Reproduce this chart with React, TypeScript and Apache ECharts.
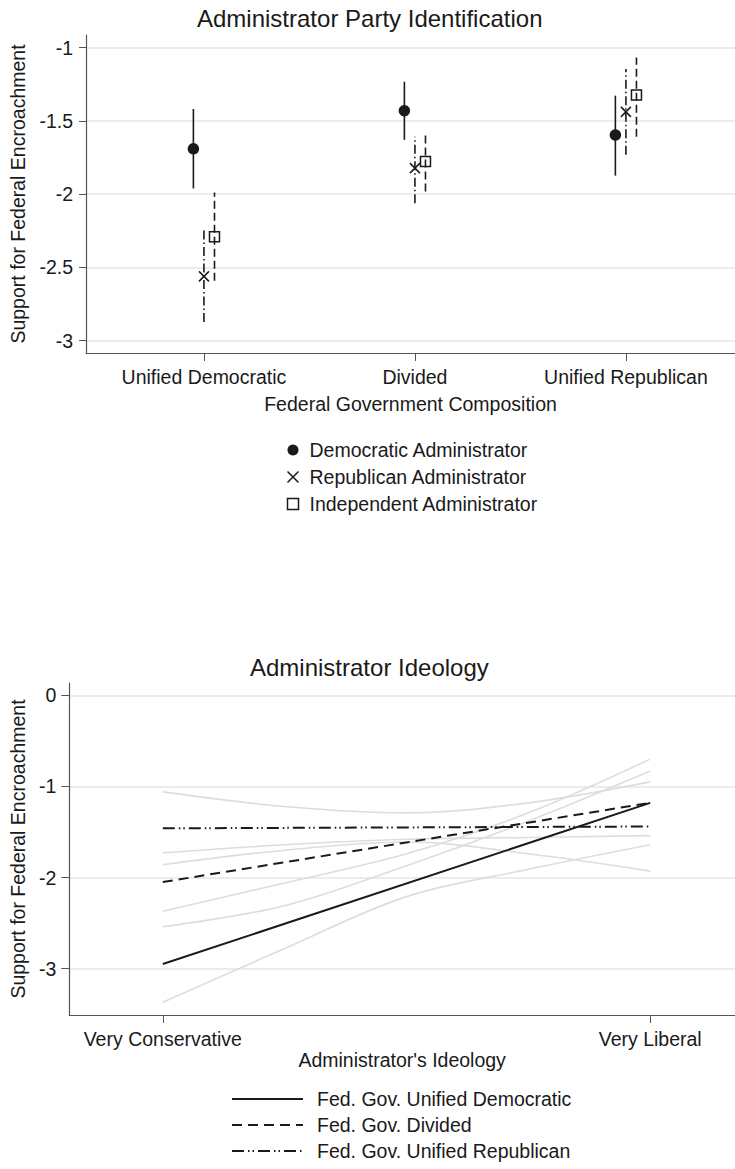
import React, { useEffect, useRef } from 'react';
import * as echarts from 'echarts';

// ---- Panel 1: Administrator party identification by federal government composition ----
const compositions = ['Unified Democratic', 'Divided', 'Unified Republican'];
const compositionTicks = [1, 2, 3];
const partyNames = ['Democratic Administrator', 'Republican Administrator', 'Independent Administrator'];

const demEst = [-1.69, -1.43, -1.595];
const demLo = [-1.961, -1.629, -1.873];
const demHi = [-1.418, -1.232, -1.327];

const repEst = [-2.561, -1.822, -1.438];
const repLo = [-2.872, -2.061, -1.731];
const repHi = [-2.243, -1.607, -1.145];

const indEst = [-2.291, -1.777, -1.322];
const indLo = [-2.59, -1.982, -1.607];
const indHi = [-1.988, -1.573, -1.066];

const partyYTicks = [-3, -2.5, -2, -1.5, -1];

// ---- Panel 2: Administrator ideology ----
const ideologyLabels = ['Very Conservative', 'Very Liberal'];
const ideologyEnds = [0, 1];
const ideologyGrid = [0, 0.25, 0.5, 0.75, 1];
const govNames = ['Fed. Gov. Unified Democratic', 'Fed. Gov. Divided', 'Fed. Gov. Unified Republican'];

const unifiedDem = [-2.95, -1.18];
const dividedGov = [-2.05, -1.18];
const unifiedRep = [-1.46, -1.44];

// light background fits evaluated along the ideology scale
const fitA = [-1.06, -1.22, -1.29, -1.18, -0.95];
const fitB = [-1.73, -1.64, -1.58, -1.56, -1.54];
const fitC = [-1.86, -1.7, -1.61, -1.74, -1.93];
const fitD = [-2.37, -2.06, -1.74, -1.29, -0.7];
const fitE = [-2.54, -2.31, -1.87, -1.38, -0.83];
const fitF = [-3.37, -2.78, -2.21, -1.91, -1.64];
const backgroundFits = [fitA, fitB, fitC, fitD, fitE, fitF];

const ideologyYTicks = [-3, -2, -1, 0];

const FONT = '"Liberation Sans", Arial, Helvetica, sans-serif';
const INK = '#1a1a1a';
const AXIS = '#555555';
const GRIDLINE = '#e6e6e6';
const FS = 19.5;

function errorBars(name: string, lo: number[], hi: number[], offset: number, dash: number[] | null) {
  return {
    type: 'custom',
    name,
    xAxisIndex: 0,
    yAxisIndex: 0,
    silent: true,
    z: 2,
    data: lo.map((v, i) => [compositionTicks[i] + offset, v, hi[i]]),
    encode: { x: 0, y: [1, 2] },
    renderItem: (_params: any, api: any) => {
      const a = api.coord([api.value(0), api.value(1)]);
      const b = api.coord([api.value(0), api.value(2)]);
      return {
        type: 'line',
        shape: { x1: a[0], y1: a[1], x2: b[0], y2: b[1] },
        style: { stroke: INK, lineWidth: 1.6, lineDash: dash || undefined },
      };
    },
  };
}

export default function App() {
  const ref = useRef<HTMLDivElement>(null);

  useEffect(() => {
    if (!ref.current) return;
    const chart = echarts.init(ref.current, undefined, { renderer: 'svg' });

    const axisText = { color: INK, fontSize: FS, fontFamily: FONT };
    const DODGE = 0.05;
    const axisLine = { show: true, onZero: false, lineStyle: { color: AXIS, width: 1.2 } };

    const option: any = {
      animation: false,
      backgroundColor: '#ffffff',
      textStyle: { fontFamily: FONT },
      title: [
        {
          text: 'Administrator Party Identification',
          left: 197,
          top: 6,
          padding: 0,
          textStyle: { fontSize: 24, fontWeight: 'normal', color: INK, fontFamily: FONT },
        },
        {
          text: 'Administrator Ideology',
          left: 250,
          top: 655,
          padding: 0,
          textStyle: { fontSize: 24, fontWeight: 'normal', color: INK, fontFamily: FONT },
        },
      ],
      legend: [
        {
          data: partyNames,
          orient: 'vertical',
          left: 285,
          top: 440,
          itemWidth: 11,
          itemHeight: 11,
          itemGap: 7,
          padding: 0,
          selectedMode: false,
          itemStyle: { borderWidth: 1.5, opacity: 1 },
          textStyle: { ...axisText, padding: [0, 0, 0, 6] },
        },
        {
          data: govNames,
          orient: 'vertical',
          left: 231,
          top: 1089,
          itemWidth: 71,
          itemHeight: 14,
          itemGap: 6,
          padding: 0,
          selectedMode: false,
          itemStyle: { opacity: 0 },
          textStyle: { ...axisText, padding: [0, 0, 0, 9] },
        },
      ],
      grid: [
        { left: 86, top: 35, right: 0, height: 318, containLabel: false },
        { left: 69, top: 683, right: 0, height: 332, containLabel: false },
      ],
      xAxis: [
        {
          gridIndex: 0,
          type: 'value',
          min: 0.441,
          max: 3.517,
          name: 'Federal Government Composition',
          nameLocation: 'middle',
          nameGap: 41,
          nameTextStyle: axisText,
          axisLine,
          axisTick: { show: true, length: 8, lineStyle: { color: AXIS }, customValues: compositionTicks },
          axisLabel: {
            ...axisText,
            margin: 14,
            customValues: compositionTicks,
            formatter: (v: number) => compositions[compositionTicks.indexOf(Math.round(v))] || '',
          },
          splitLine: { show: false },
        },
        {
          gridIndex: 1,
          type: 'value',
          min: -0.192,
          max: 1.174,
          name: "Administrator's Ideology",
          nameLocation: 'middle',
          nameGap: 35,
          nameTextStyle: axisText,
          axisLine,
          axisTick: { show: true, length: 8, lineStyle: { color: AXIS }, customValues: ideologyEnds },
          axisLabel: {
            ...axisText,
            margin: 14,
            customValues: ideologyEnds,
            formatter: (v: number) => ideologyLabels[ideologyEnds.indexOf(Math.round(v))] || '',
          },
          splitLine: { show: false },
        },
      ],
      yAxis: [
        {
          gridIndex: 0,
          type: 'value',
          min: -3.084,
          max: -0.913,
          name: 'Support for Federal Encroachment',
          nameLocation: 'middle',
          nameGap: 56,
          nameTextStyle: axisText,
          axisLine,
          axisTick: { show: true, length: 7, lineStyle: { color: AXIS }, customValues: partyYTicks },
          axisLabel: { ...axisText, margin: 13, customValues: partyYTicks },
          splitLine: { show: true, lineStyle: { color: GRIDLINE, width: 1.5 } },
        },
        {
          gridIndex: 1,
          type: 'value',
          min: -3.51,
          max: 0.136,
          name: 'Support for Federal Encroachment',
          nameLocation: 'middle',
          nameGap: 39,
          nameTextStyle: axisText,
          axisLine,
          axisTick: { show: true, length: 8, lineStyle: { color: AXIS }, customValues: ideologyYTicks },
          axisLabel: { ...axisText, margin: 13, customValues: ideologyYTicks },
          splitLine: { show: true, lineStyle: { color: GRIDLINE, width: 1.5 } },
        },
      ],
      series: [
        errorBars('Democratic CI', demLo, demHi, -DODGE, null),
        errorBars('Republican CI', repLo, repHi, 0, [9, 3, 1.5, 3]),
        errorBars('Independent CI', indLo, indHi, DODGE, [8, 4]),
        {
          type: 'scatter',
          name: partyNames[0],
          xAxisIndex: 0,
          yAxisIndex: 0,
          z: 3,
          symbol: 'circle',
          symbolSize: 11.5,
          itemStyle: { color: INK, opacity: 1 },
          data: demEst.map((v, i) => [compositionTicks[i] - DODGE, v]),
        },
        {
          type: 'scatter',
          name: partyNames[1],
          xAxisIndex: 0,
          yAxisIndex: 0,
          z: 3,
          symbol: 'path://M0,0L10,10M10,0L0,10',
          symbolSize: 10,
          itemStyle: { color: 'none', borderColor: INK, borderWidth: 1.5, opacity: 1 },
          data: repEst.map((v, i) => [compositionTicks[i], v]),
        },
        {
          type: 'scatter',
          name: partyNames[2],
          xAxisIndex: 0,
          yAxisIndex: 0,
          z: 3,
          symbol: 'rect',
          symbolSize: 10,
          itemStyle: { color: 'rgba(255,255,255,0)', borderColor: INK, borderWidth: 1.5, opacity: 1 },
          data: indEst.map((v, i) => [compositionTicks[i] + DODGE, v]),
        },
        ...backgroundFits.map((fit, k) => ({
          type: 'line',
          name: 'fit' + k,
          xAxisIndex: 1,
          yAxisIndex: 1,
          z: 1,
          silent: true,
          smooth: 0.35,
          symbol: 'none',
          lineStyle: { color: '#dddddd', width: 1.6 },
          data: ideologyGrid.map((x, i) => [x, fit[i]]),
        })),
        {
          type: 'line',
          name: govNames[0],
          xAxisIndex: 1,
          yAxisIndex: 1,
          z: 3,
          symbol: 'none',
          itemStyle: { color: INK, opacity: 0 },
          lineStyle: { color: INK, width: 2, type: 'solid', opacity: 1 },
          data: ideologyEnds.map((x, i) => [x, unifiedDem[i]]),
        },
        {
          type: 'line',
          name: govNames[1],
          xAxisIndex: 1,
          yAxisIndex: 1,
          z: 3,
          symbol: 'none',
          itemStyle: { color: INK, opacity: 0 },
          lineStyle: { color: INK, width: 2, type: [10, 6], opacity: 1 },
          data: ideologyEnds.map((x, i) => [x, dividedGov[i]]),
        },
        {
          type: 'line',
          name: govNames[2],
          xAxisIndex: 1,
          yAxisIndex: 1,
          z: 3,
          symbol: 'none',
          itemStyle: { color: INK, opacity: 0 },
          lineStyle: { color: INK, width: 2, type: [12, 4, 1.5, 3, 1.5, 4], opacity: 1 },
          data: ideologyEnds.map((x, i) => [x, unifiedRep[i]]),
        },
      ],
    };

    chart.setOption(option);
    return () => chart.dispose();
  }, []);

  return (
    <div
      ref={ref}
      style={{ position: 'absolute', left: 0, top: 0, width: 735, height: 1169, background: '#fff' }}
    />
  );
}
